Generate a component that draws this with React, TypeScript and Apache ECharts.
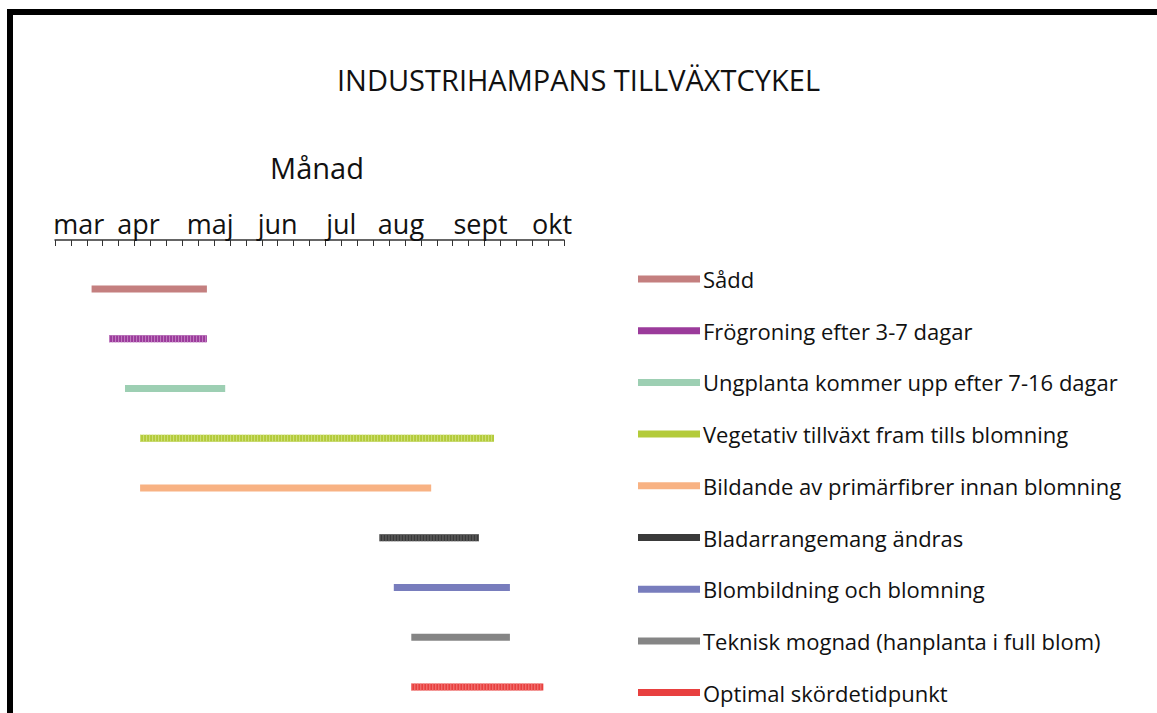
import React, { useEffect, useRef } from "react";
import * as echarts from "echarts";

// Phases of the industrial hemp growth cycle; values in weeks counted from 1 March (4 weeks per month on the axis)
const phases = [
  "Sådd",
  "Frögroning efter 3-7 dagar",
  "Ungplanta kommer upp efter 7-16 dagar",
  "Vegetativ tillväxt fram tills blomning",
  "Bildande av primärfibrer innan blomning",
  "Bladarrangemang ändras",
  "Blombildning och blomning",
  "Teknisk mognad (hanplanta i full blom)",
  "Optimal skördetidpunkt",
];
const starts = [2.3, 3.4, 4.4, 5.35, 5.35, 20.4, 21.3, 22.4, 22.4];
const ends = [9.55, 9.55, 10.7, 27.6, 23.65, 26.65, 28.6, 28.6, 30.7];

// Month tick labels and where they sit on the week axis
const months = ["mar", "apr", "maj", "jun", "jul", "aug", "sept", "okt"];
const monthLabelAt = [1.5, 5.25, 9.75, 14, 18, 21.75, 26.75, 31.25];

// Styles
const colors = [
  "#c47f7f",
  "#9b3b9b",
  "#9dcfb3",
  "#b3cb3a",
  "#f8b283",
  "#3a3a3a",
  "#787dbd",
  "#858585",
  "#e8403f",
];
const hatchColors = [null, "#c27fc2", null, "#cfe07a", null, "#6a6a6a", null, null, "#f27f7e"];

const FONT = "'Open Sans', 'Noto Sans', sans-serif";

export default function App() {
  const ref = useRef<HTMLDivElement>(null);

  useEffect(() => {
    if (!ref.current) return;
    const chart = echarts.init(ref.current, undefined, { renderer: "svg" });

    const labelMap: Record<string, string> = {};
    monthLabelAt.forEach((v, i) => {
      labelMap[v.toFixed(2)] = months[i];
    });

    const series: any[] = [];
    phases.forEach((name, i) => {
      const data = [
        [starts[i], name],
        [ends[i], name],
      ];
      series.push({
        name,
        type: "line",
        symbol: "none",
        color: colors[i],
        silent: true,
        lineStyle: { color: colors[i], width: 7, cap: "butt" },
        data,
      });
      if (hatchColors[i]) {
        series.push({
          name: name + " (mönster)",
          type: "line",
          symbol: "none",
          color: hatchColors[i],
          silent: true,
          lineStyle: { color: hatchColors[i], width: 7, cap: "butt", type: [1, 2] },
          data,
        });
      }
    });

    chart.setOption({
      animation: false,
      backgroundColor: "#ffffff",
      title: {
        text: "INDUSTRIHAMPANS TILLVÄXTCYKEL",
        left: "center",
        top: 60,
        textStyle: {
          fontFamily: FONT,
          fontSize: 29,
          fontWeight: "normal",
          color: "#111",
        },
      },
      legend: {
        data: phases,
        orient: "vertical",
        left: 638,
        top: 267,
        padding: 0,
        icon: "rect",
        itemWidth: 62,
        itemHeight: 7,
        itemGap: 27.7,
        selectedMode: false,
        itemStyle: { borderWidth: 0 },
        lineStyle: { width: 0 },
        textStyle: {
          fontFamily: FONT,
          fontSize: 22,
          lineHeight: 24,
          color: "#111",
          padding: [0, 0, 0, -2],
        },
      },
      grid: {
        left: 55,
        right: 593,
        top: 264,
        bottom: 1,
        containLabel: false,
      },
      xAxis: [
        {
          type: "value",
          position: "top",
          offset: 24,
          min: 0,
          max: 32,
          interval: 1,
          name: "Månad",
          nameLocation: "middle",
          nameGap: 58,
          nameTextStyle: {
            fontFamily: FONT,
            fontSize: 29,
            color: "#111",
            padding: [0, 0, 0, 15],
          },
          axisLine: { show: true, lineStyle: { color: "#333", width: 1.5 } },
          axisTick: { show: true, inside: true, length: 6, lineStyle: { color: "#333", width: 1 } },
          axisLabel: { show: false },
          splitLine: { show: false },
        },
        {
          type: "value",
          position: "top",
          offset: 24,
          min: 0,
          max: 32,
          interval: 0.25,
          axisLine: { show: false },
          axisTick: { show: false },
          splitLine: { show: false },
          axisLabel: {
            show: true,
            margin: 3,
            fontFamily: FONT,
            fontSize: 27,
            color: "#111",
            formatter: (v: number) => labelMap[v.toFixed(2)] || "",
          },
        },
      ],
      yAxis: {
        type: "category",
        data: phases,
        inverse: true,
        show: false,
      },
      graphic: [
        {
          type: "rect",
          shape: { x: 10, y: 12, width: 1200, height: 800 },
          style: { fill: "none", stroke: "#000", lineWidth: 6 },
          silent: true,
        },
      ],
      series,
    });

    return () => chart.dispose();
  }, []);

  return (
    <div
      ref={ref}
      style={{ position: "fixed", left: 0, top: 0, width: 1157, height: 713 }}
    />
  );
}
